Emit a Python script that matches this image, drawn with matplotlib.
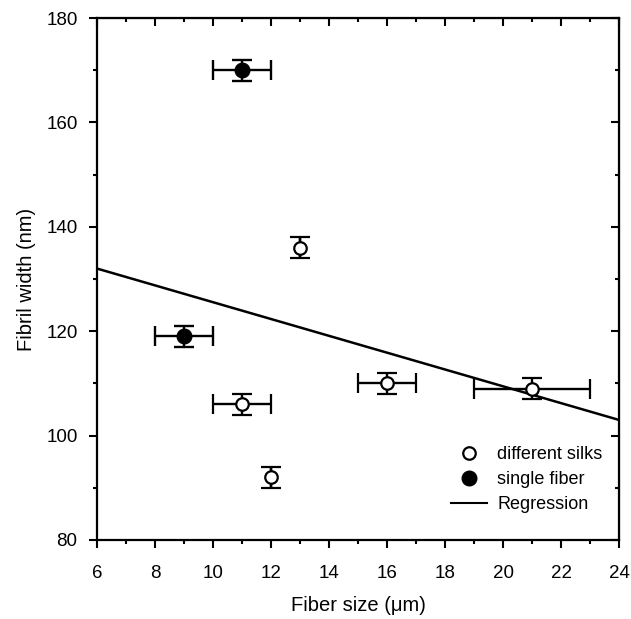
import matplotlib.pyplot as plt
from matplotlib.ticker import MultipleLocator
from matplotlib.lines import Line2D

plt.rcParams['font.family'] = ['Liberation Sans', 'DejaVu Sans']

# different silks (open circles)
silk_x = [11, 12, 13, 16, 21]
silk_y = [106, 92, 136, 110, 109]
silk_xerr = [1, 0, 0, 1, 2]
silk_yerr = [2, 2, 2, 2, 2]

# single fiber (filled circles)
single_x = [11, 9]
single_y = [170, 119]
single_xerr = [1, 1]
single_yerr = [2, 2]

# regression line end points
reg_x = [6, 24]
reg_y = [132, 103]

legend_labels = ['different silks', 'single fiber', 'Regression']

fig = plt.figure(figsize=(6.31, 6.19), dpi=100)
ax = fig.add_axes([97/631, 1 - 540/619, 522/631, 522/619])

ax.errorbar(silk_x, silk_y, xerr=silk_xerr, yerr=silk_yerr, fmt='o', mfc='white',
            mec='black', mew=1.6, ms=9, ecolor='black', elinewidth=1.7,
            capsize=7, capthick=1.7)
ax.errorbar(single_x, single_y, xerr=single_xerr, yerr=single_yerr, fmt='o', mfc='black',
            mec='black', ms=10.5, ecolor='black', elinewidth=1.7,
            capsize=7, capthick=1.7)
ax.plot(reg_x, reg_y, color='black', lw=1.8)

ax.set_xlim(6, 24)
ax.set_ylim(80, 180)
ax.xaxis.set_major_locator(MultipleLocator(2))
ax.xaxis.set_minor_locator(MultipleLocator(1))
ax.yaxis.set_major_locator(MultipleLocator(20))
ax.yaxis.set_minor_locator(MultipleLocator(10))
ax.tick_params(which='major', direction='out', length=6, width=1.5, labelsize=13.5)
ax.tick_params(axis='x', which='major', pad=12)
ax.tick_params(axis='y', which='major', pad=8)
ax.tick_params(which='minor', direction='out', length=3, width=1.5)
for s in ax.spines.values():
    s.set_linewidth(1.6)

top = ax.secondary_xaxis('top')
top.xaxis.set_major_locator(MultipleLocator(2))
top.xaxis.set_minor_locator(MultipleLocator(1))
top.tick_params(which='major', direction='in', length=6, width=1.5, labeltop=False)
top.tick_params(which='minor', direction='in', length=3, width=1.5)
right = ax.secondary_yaxis('right')
right.yaxis.set_major_locator(MultipleLocator(20))
right.yaxis.set_minor_locator(MultipleLocator(10))
right.tick_params(which='major', direction='in', length=6, width=1.5, labelright=False)
right.tick_params(which='minor', direction='in', length=3, width=1.5)

ax.set_xlabel('Fiber size (μm)', fontsize=14.5, labelpad=10)
ax.set_ylabel('Fibril width (nm)', fontsize=14.5, labelpad=7)

h = [Line2D([], [], marker='o', ls='none', mfc='white', mec='black', mew=1.6, ms=9),
     Line2D([], [], marker='o', ls='none', mfc='black', mec='black', ms=10.5),
     Line2D([], [], color='black', lw=1.5)]
ax.legend(h, legend_labels, loc='lower right', frameon=False, fontsize=13,
          handlelength=2.0, handletextpad=0.6, bbox_to_anchor=(1.0, 0.02),
          labelspacing=0.45)

fig.savefig('out.png', dpi=100)
